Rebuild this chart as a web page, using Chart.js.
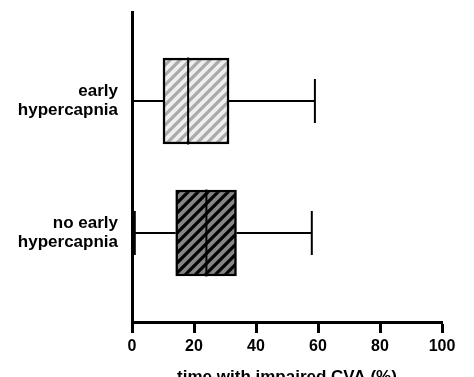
<!DOCTYPE html>
<html>
<head>
<meta charset="utf-8">
<script src="https://cdn.jsdelivr.net/npm/chart.js@4.4.0/dist/chart.umd.min.js"></script>
<style>
  html, body { margin: 0; padding: 0; overflow: hidden; background: #fff; }
  #wrap { width: 474px; height: 388px; position: relative; }
</style>
</head>
<body>
<div id="wrap"><canvas id="myChart"></canvas></div>
<script>
var groups = [["early", "hypercapnia"], ["no early", "hypercapnia"]];
var mins = [0, 0.9];
var q1s = [10, 14.1];
var medians = [18.1, 24];
var q3s = [31.3, 33.7];
var maxs = [59, 58];
var xTicks = [0, 20, 40, 60, 80, 100];

// hatch fill, "/" stripes
function hatch(bg, fg, size, lw) {
	var c = document.createElement("canvas");
	c.width = size;
	c.height = size;
	var g = c.getContext("2d");
	g.fillStyle = bg;
	g.fillRect(0, 0, size, size);
	g.strokeStyle = fg;
	g.lineWidth = lw;
	g.beginPath();
	g.moveTo(0, size); g.lineTo(size, 0);
	g.moveTo(-size / 2, size / 2); g.lineTo(size / 2, -size / 2);
	g.moveTo(size / 2, size * 1.5); g.lineTo(size * 1.5, size / 2);
	g.stroke();
	return g.createPattern(c, "repeat");
}

var fills = [hatch("#efefef", "#aaaaaa", 10, 3.2), hatch("#858585", "#000000", 10, 3.2)];

var halfBox = 0.33;
var halfCap = 0.167;

function seg(x1, y1, x2, y2) {
	return {
		type: "scatter",
		data: [{x: x1, y: y1}, {x: x2, y: y2}],
		showLine: true,
		borderColor: "#000",
		borderWidth: 2,
		pointRadius: 0,
		order: 0
	};
}

var datasets = [];
for (var i = 0; i < groups.length; i++) {
	datasets.push(seg(mins[i], i, q1s[i], i));
	datasets.push(seg(q3s[i], i, maxs[i], i));
	datasets.push(seg(mins[i], i - halfCap, mins[i], i + halfCap));
	datasets.push(seg(maxs[i], i - halfCap, maxs[i], i + halfCap));
	datasets.push(seg(medians[i], i - halfBox, medians[i], i + halfBox));
}
datasets.push({
	type: "bar",
	indexAxis: "y",
	data: groups.map(function(g, i) { return {y: i, x: [q1s[i], q3s[i]]}; }),
	backgroundColor: fills,
	borderColor: "#000",
	borderWidth: 2.5,
	borderSkipped: false,
	barThickness: 86,
	order: 1
});

var ctx = document.getElementById("myChart");
var myChart = new Chart(ctx, {
	type: "bar",
	data: { datasets: datasets },
	options: {
		responsive: true,
		maintainAspectRatio: false,
		animation: false,
		layout: { padding: { top: 12, right: 32, left: 0, bottom: 0 } },
		plugins: { legend: { display: false }, tooltip: { enabled: false } },
		scales: {
			x: {
				type: "linear",
				min: 0,
				max: 100,
				offset: false,
				afterBuildTicks: function(scale) {
					scale.ticks = xTicks.map(function(v) { return {value: v}; });
				},
				grid: { display: true, offset: false, drawOnChartArea: false, drawTicks: true, tickLength: 11, tickWidth: 3, tickColor: "#000" },
				border: { display: true, color: "#000", width: 3 },
				ticks: {
					color: "#000",
					padding: 4,
					maxRotation: 0,
					font: { family: "Liberation Sans", size: 16, weight: "bold" }
				},
				title: {
					display: true,
					text: "time with impaired CVA (%)",
					color: "#000",
					padding: { top: 4, bottom: 0 },
					font: { family: "Liberation Sans", size: 17, weight: "bold" }
				},
				afterFit: function(scale) {
					scale.height = 388 - 322;
					scale.paddingLeft = 0;
					scale.paddingRight = 0;
				}
			},
			y: {
				type: "linear",
				min: -0.674,
				max: 1.674,
				reverse: true,
				offset: false,
				afterBuildTicks: function(scale) {
					scale.ticks = groups.map(function(g, i) { return {value: i}; });
				},
				grid: { display: false, offset: false, drawTicks: false },
				border: { display: true, color: "#000", width: 3 },
				ticks: {
					color: "#000",
					padding: 14,
					callback: function(v) { return groups[v]; },
					font: { family: "Liberation Sans", size: 17, weight: "bold", lineHeight: 1.12 }
				},
				afterFit: function(scale) {
					scale.width = 132;
					scale.paddingTop = 0;
					scale.paddingBottom = 0;
				}
			}
		}
	}
});
</script>
</body>
</html>
